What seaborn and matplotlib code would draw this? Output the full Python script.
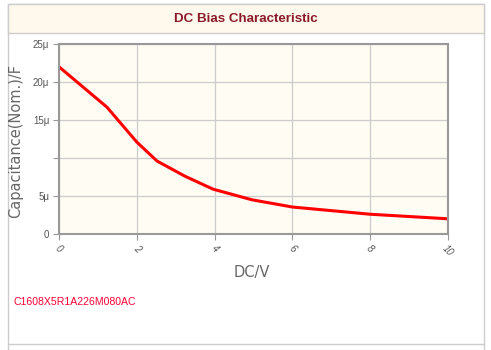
import matplotlib
matplotlib.use("Agg")
import matplotlib.pyplot as plt
import matplotlib.patches as mpatches
import seaborn as sns
import pandas as pd

# Data
voltage = [0, 1.23, 2.0, 2.52, 3.24, 3.96, 4.96, 6.0, 8.0, 10.0]
capacitance_uF = [22.0, 16.7, 12.1, 9.6, 7.6, 5.9, 4.5, 3.55, 2.6, 2.0]
y_ticks = [0, 5, 10, 15, 20, 25]
y_tick_labels = ["0", "5\u03bc", "", "15\u03bc", "20\u03bc", "25\u03bc"]
x_ticks = [0, 2, 4, 6, 8, 10]
x_tick_labels = ["0", "2", "4", "6", "8", "10"]
title = "DC Bias Characteristic"
part_number = "C1608X5R1A226M080AC"

df = pd.DataFrame({"DC/V": voltage, "C": capacitance_uF})

sns.set_style("white")
plt.rcParams["font.family"] = ["Liberation Sans", "DejaVu Sans"]

W, H = 491, 350
fig = plt.figure(figsize=(W / 100, H / 100), dpi=100)
fig.patch.set_facecolor("white")

def px(x0, y0, x1, y1):
    return (x0 / W, 1 - y1 / H, (x1 - x0) / W, (y1 - y0) / H)

# outer panel border
l, b, w, h = px(8, 4, 484, 360)
fig.add_artist(mpatches.Rectangle((l, b), w, h, transform=fig.transFigure,
                                  facecolor="white", edgecolor="#cccccc", lw=1.0, zorder=0))
# title band
l, b, w, h = px(8, 4, 484, 33)
fig.add_artist(mpatches.Rectangle((l, b), w, h, transform=fig.transFigure,
                                  facecolor="#fef9ec", edgecolor="#cccccc", lw=1.0, zorder=1))
# bottom separator
fig.add_artist(plt.Line2D([8 / W, 484 / W], [1 - 344 / H, 1 - 344 / H],
                          transform=fig.transFigure, color="#cccccc", lw=1.0))

fig.text(246 / W, 1 - 19 / H, title, ha="center", va="center",
         color="#8b1a2b", fontsize=9.6, fontweight="bold")

# plot axes
ax = fig.add_axes(px(59, 44, 448, 234))
ax.set_facecolor("#fffcf3")
sns.lineplot(data=df, x="DC/V", y="C", ax=ax, color="#ff0000", lw=2.2)

ax.set_xlim(0, 10)
ax.set_ylim(0, 25)
ax.set_xticks(x_ticks)
ax.set_xticklabels(x_tick_labels, rotation=-45, fontstyle="italic",
                   fontsize=7, color="#555555", ha="center", va="top")
ax.set_yticks(y_ticks)
ax.set_yticklabels(y_tick_labels, fontsize=7, color="#555555")
ax.grid(True, color="#cccccc", lw=0.9)
ax.set_axisbelow(True)
ax.tick_params(axis="both", which="both", length=4, width=0.8, color="#999999",
               pad=3, left=True, bottom=True)
for s in ax.spines.values():
    s.set_color("#999999")
    s.set_linewidth(1.5)
    s.set_visible(True)

ax.set_xlabel("")
ax.set_ylabel("")
fig.text(252 / W, 1 - 272 / H, "DC/V", ha="center", va="center",
         color="#666666", fontsize=10.5, family=["DejaVu Sans"])
fig.text(16 / W, 1 - 141 / H, "Capacitance(Nom.)/F", ha="center", va="center",
         rotation=90, color="#666666", fontsize=10.5, family=["DejaVu Sans"])

fig.text(13 / W, 1 - 302 / H, part_number, ha="left", va="center",
         color="#ff0033", fontsize=7.6)

fig.savefig("out.png", dpi=100, facecolor="white")
